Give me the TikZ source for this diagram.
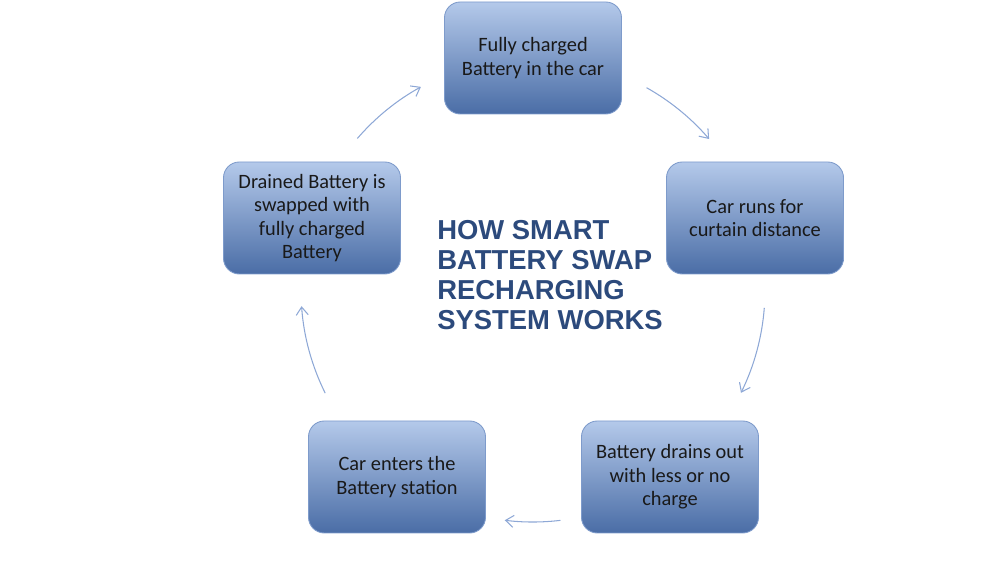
\documentclass[tikz,border=0pt]{standalone}
\usepackage{fontspec}
\setmainfont{Carlito}
\newfontfamily\titlefont{Liberation Sans}
\usetikzlibrary{arrows.meta, calc}

\definecolor{boxtop}{HTML}{B4C9EA}
\definecolor{boxbot}{HTML}{4A6DA6}
\definecolor{boxline}{HTML}{7E9BCB}
\definecolor{cycblue}{HTML}{8EA8D6}
\definecolor{titleblue}{HTML}{2C4A7C}

\begin{document}
\begin{tikzpicture}[
  stepbox/.style={rectangle, rounded corners=9pt, draw=boxline, line width=0.5pt,
    top color=boxtop, bottom color=boxbot, minimum width=3.54cm, minimum height=2.24cm,
    align=center, text=black!90, font=\fontsize{11.6}{13.4}\selectfont},
  cyc/.style={cycblue, line width=0.6pt, -{Straight Barb[length=1.6mm, width=2.4mm]}}]

  \useasboundingbox (0,0) rectangle (20,-11.24);

  % centre of the cycle
  \coordinate (hub) at (10.66,-5.80);

  % the five steps
  \node[stepbox] (full)  at (10.66,-1.16) {Fully charged\\Battery in the car};
  \node[stepbox] (runs)  at (15.10,-4.36) {Car runs for\\curtain distance};
  \node[stepbox] (drain) at (13.40,-9.54) {Battery drains out\\with less or no\\charge};
  \node[stepbox] (enter) at (7.94,-9.54)  {Car enters the\\Battery station};
  \node[stepbox] (swap)  at (6.24,-4.36)  {Drained Battery is\\swapped with\\fully charged\\Battery};

  % title
  \node[anchor=west, align=left, text=titleblue, inner sep=0pt,
    font=\titlefont\bfseries\fontsize{15.6}{17}\selectfont] (title) at (8.74,-5.50)
    {HOW SMART\\BATTERY SWAP\\RECHARGING\\SYSTEM WORKS};

  % arrows round the cycle
  \coordinate (fr) at ($(hub)+(60.7:4.64)$);
  \coordinate (rd) at ($(hub)+(-4.4:4.64)$);
  \coordinate (de) at ($(hub)+(-83.2:4.64)$);
  \coordinate (es) at ($(hub)+(206.4:4.64)$);
  \coordinate (sf) at ($(hub)+(139.2:4.64)$);

  \draw[cyc] (fr) arc[start angle=60.7, end angle=40.6, radius=4.64];
  \draw[cyc] (rd) arc[start angle=-4.4, end angle=-26.3, radius=4.64];
  \draw[cyc] (de) arc[start angle=-83.2, end angle=-97, radius=4.64];
  \draw[cyc] (es) arc[start angle=206.4, end angle=184, radius=4.64];
  \draw[cyc] (sf) arc[start angle=139.2, end angle=118.9, radius=4.64];
\end{tikzpicture}
\end{document}
